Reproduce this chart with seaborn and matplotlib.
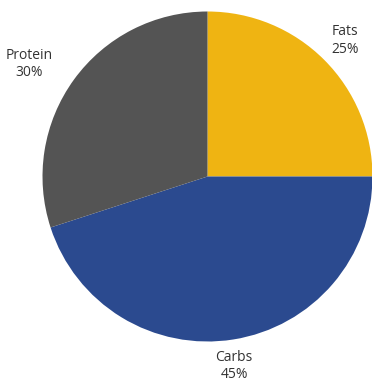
import numpy as np
import matplotlib
matplotlib.use("Agg")
import matplotlib.pyplot as plt
import seaborn as sns

sns.set_style("white")
plt.rcParams['font.family'] = ['Open Sans', 'DejaVu Sans']

categories = ["Fats", "Carbs", "Protein"]
shares = [25, 45, 30]
colors = ["#EFB412", "#2B4A8F", "#545454"]
# label placement tweaks (distance from centre, angle shift in degrees)
label_dist = [1.172, 1.159, 1.276]
label_shift = [-0.3, -1.0, 3.7]

fig = plt.figure(figsize=(3.72, 3.81), dpi=100)
ax = fig.add_axes([0, 0, 1, 1])

wedges, _ = ax.pie(shares, colors=colors, startangle=90, counterclock=False,
                   radius=1.0, wedgeprops=dict(linewidth=0))

for w, name, val, d, sh in zip(wedges, categories, shares, label_dist, label_shift):
    mid = np.deg2rad((w.theta1 + w.theta2) / 2 + sh)
    ax.text(d * np.cos(mid), d * np.sin(mid), f"{name}\n{val}%",
            ha="center", va="center", fontsize=10, color="#333333",
            linespacing=1.2)

# map data units to pixels: center at (207.5, 176.5), radius 165 px
s = 165.0
ax.set_xlim(-207.5 / s, (372 - 207.5) / s)
ax.set_ylim(-(381 - 176.5) / s, 176.5 / s)
ax.set_aspect("auto")
ax.axis("off")

fig.savefig("out.png", dpi=100)
